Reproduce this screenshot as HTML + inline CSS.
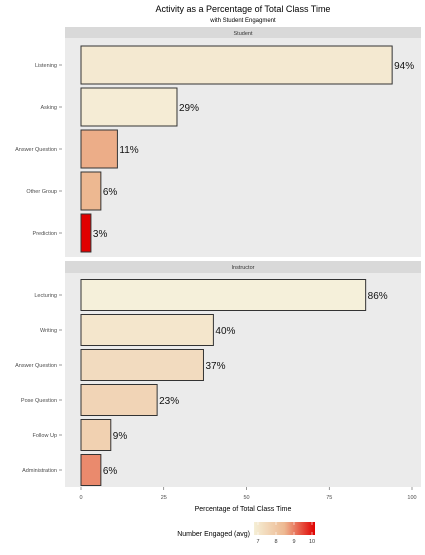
<!DOCTYPE html>
<html><head><meta charset="utf-8"><style>
body{margin:0;background:#fff;font-family:"Liberation Sans",sans-serif}
</style></head><body>
<svg id="c" width="425" height="550" xmlns="http://www.w3.org/2000/svg">
<defs><linearGradient id="g" x1="0" x2="1" y1="0" y2="0">
<stop offset="0" stop-color="#f5efd6"/><stop offset="0.5" stop-color="#edb891"/><stop offset="1" stop-color="#e00000"/></linearGradient></defs>
<text x="243" y="12" font-size="9" text-anchor="middle">Activity as a Percentage of Total Class Time</text>
<text x="243" y="22" font-size="6" text-anchor="middle">with Student Engagment</text>
<g id="plot"></g>
<text x="243" y="511" font-size="7" text-anchor="middle">Percentage of Total Class Time</text>
<text x="250" y="536" font-size="7" text-anchor="end">Number Engaged (avg)</text>
<rect x="254" y="522" width="61" height="13" fill="url(#g)"/>
<g id="leg"></g>
</svg>
<script>
const studentCats=["Listening","Asking","Answer Question","Other Group","Prediction"];
const studentVals=[94,29,11,6,3];
const studentEng=[7.0,6.9,8.5,8.4,10];
const instrCats=["Lecturing","Writing","Answer Question","Pose Question","Follow Up","Administration"];
const instrVals=[86,40,37,23,9,6];
const instrEng=[6.8,7.1,7.4,7.6,7.7,8.8];
const xTicks=[0,25,50,75,100];
const legTicks=[7,8,9,10];

const NS="http://www.w3.org/2000/svg";
const X0=65,X1=421;
const xs=v=>81+v*3.31;
function col(e){
  let t=Math.max(0,Math.min(1,(e-6.8)/(10-6.8)));
  const s=[[245,240,218],[237,184,145],[224,0,0]];
  let a,b,u;
  if(t<0.5){a=s[0];b=s[1];u=t/0.5}else{a=s[1];b=s[2];u=(t-0.5)/0.5}
  return "rgb("+a.map((v,i)=>Math.round(v+(b[i]-v)*u)).join(",")+")";
}
function el(tag,at,p){const e=document.createElementNS(NS,tag);for(const k in at)e.setAttribute(k,at[k]);p.appendChild(e);return e}
const plot=document.getElementById("plot");
function panel(name,top,stripH,pBot,cats,vals,eng,c0,step,bh){
  const s=el("rect",{x:X0,y:top,width:X1-X0,height:stripH,fill:"#d9d9d9"},plot);
  
  
  const st=el("text",{x:(X0+X1)/2,y:top+8,"font-size":"5.5","text-anchor":"middle",fill:"#333"},plot);st.textContent=name;
  
  
  const bg=el("rect",{x:X0,y:top+stripH,width:X1-X0,height:pBot-top-stripH,fill:"#ebebeb"},plot);
  
  
  cats.forEach((c,i)=>{
    const cy=c0+i*step;
    const l=el("text",{x:57,y:cy+2,"font-size":"5.5","text-anchor":"end",fill:"#4d4d4d"},plot);l.textContent=c;
    
    
    el("line",{x1:59,x2:62,y1:cy,y2:cy,stroke:"#555","stroke-width":0.6},plot);
    const r=el("rect",{x:xs(0),y:cy-bh/2,width:xs(vals[i])-xs(0),height:bh,fill:col(eng[i]),stroke:"#333","stroke-width":1},plot);
    
    
    const t=el("text",{x:xs(vals[i])+2,y:cy+4,"font-size":"10",fill:"#111"},plot);t.textContent=vals[i]+"%";
    
    
  });
}
panel("Student",27,11,257,studentCats,studentVals,studentEng,65,42,38);
panel("Instructor",261,12,487,instrCats,instrVals,instrEng,295,35,31);
xTicks.forEach(v=>{
  el("line",{x1:xs(v),x2:xs(v),y1:487,y2:490,stroke:"#555","stroke-width":0.6},plot);
  const t=el("text",{x:xs(v),y:499,"font-size":"5.5","text-anchor":"middle",fill:"#4d4d4d"},plot);t.textContent=v;
  
  
});
const leg=document.getElementById("leg");
legTicks.forEach(v=>{
  const x=258+(v-7)*18;
  el("line",{x1:x,x2:x,y1:522,y2:525,stroke:"#fff","stroke-width":0.6},leg);
  el("line",{x1:x,x2:x,y1:532,y2:535,stroke:"#fff","stroke-width":0.6},leg);
  const t=el("text",{x:x,y:543,"font-size":"5.5","text-anchor":"middle",fill:"#333"},leg);t.textContent=v;
  
  
});
</script>
</body></html>
